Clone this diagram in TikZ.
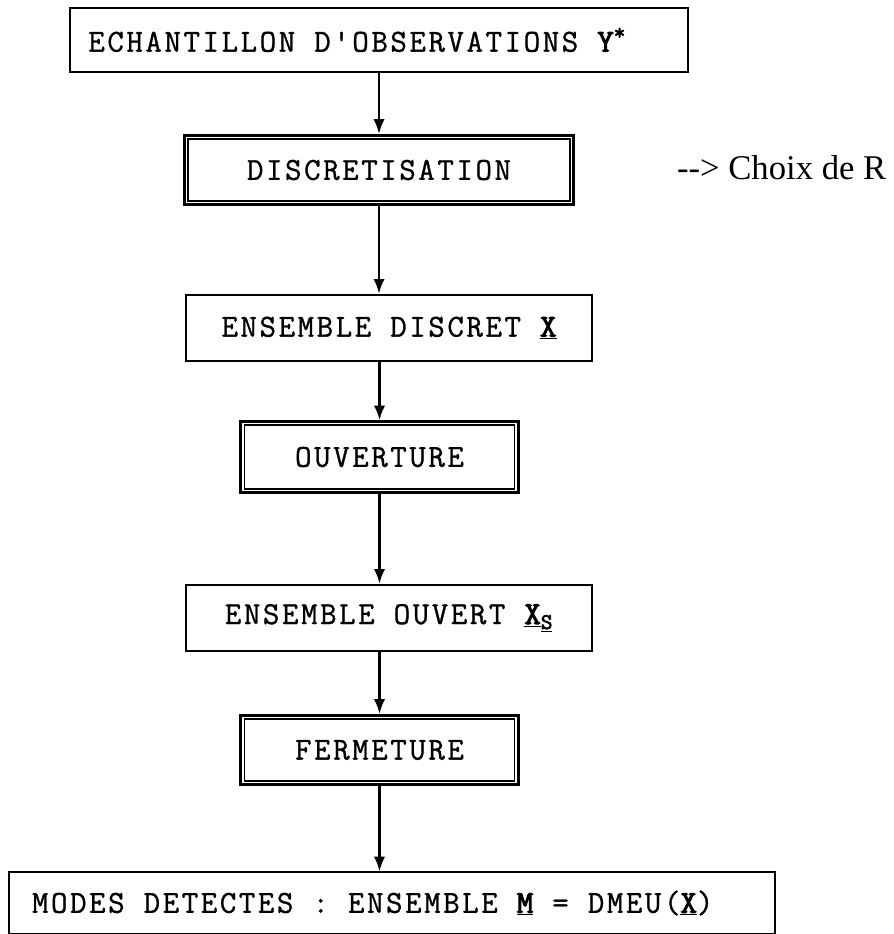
\documentclass[tikz,border=0pt]{standalone}
\usepackage{fontspec}
\usetikzlibrary{arrows.meta}
% typewriter lettering of the boxes, slightly emboldened
\newfontfamily\boxfont{Latin Modern Mono}[LetterSpace=8,FakeBold=1]
\newfontfamily\boxfontbf{Latin Modern Mono}[LetterSpace=8,FakeBold=3]
\newfontfamily\notefont{Liberation Serif}
\newcommand\bvar[1]{{\boxfontbf #1}}
\newcommand\ubvar[1]{\underline{\boxfontbf #1}}

\tikzset{
  stage/.style={draw, line width=1.5pt, inner sep=0pt,
    font=\boxfont\fontsize{24}{28}\selectfont},
  opbox/.style={stage, line width=2.2pt},
  inner frame/.style={line width=1.1pt},
  flush/.style={text width=#1, align=flush left},
  flow/.style={line width=1.7pt, -{Latex[length=11pt,width=8.5pt]}},
}

\begin{document}
\begin{tikzpicture}[x=0.75pt,y=-0.75pt]
  \useasboundingbox (0,0) rectangle (893,934);

  \node[stage, flush=436pt, minimum width=464pt, minimum height=48pt] (obs) at (379,40)
    {ECHANTILLON D'OBSERVATIONS \bvar{Y}\textsuperscript{\bvar{*}}};

  \node[opbox, minimum width=292pt, minimum height=52pt] (disc) at (379,170)
    {DISCRETISATION};
  \draw[inner frame] ([shift={(5,5)}]disc.north west) rectangle ([shift={(-5,-5)}]disc.south east);

  \node[anchor=east, font=\notefont\fontsize{26}{30}\selectfont] (choix) at (891,168)
    {-{}-> Choix de R};

  \node[stage, minimum width=304pt, minimum height=50pt] (ensd) at (389,328)
    {ENSEMBLE DISCRET \ubvar{X}};

  \node[opbox, minimum width=208pt, minimum height=53pt] (ouv) at (379.5,457)
    {OUVERTURE};
  \draw[inner frame] ([shift={(5,5)}]ouv.north west) rectangle ([shift={(-5,-5)}]ouv.south east);

  \node[stage, minimum width=304pt, minimum height=50pt] (enso) at (389,618)
    {ENSEMBLE OUVERT \ubvar{X}\textsubscript{\ubvar{S}}};

  \node[opbox, minimum width=208pt, minimum height=52pt] (ferm) at (379.5,750)
    {FERMETURE};
  \draw[inner frame] ([shift={(5,5)}]ferm.north west) rectangle ([shift={(-5,-5)}]ferm.south east);

  \node[stage, flush=540pt, minimum width=574pt, minimum height=46pt] (modes) at (392,903)
    {MODES DETECTES : ENSEMBLE \ubvar{M} = DMEU(\ubvar{X})};

  \draw[flow] (obs.south -| disc.north)  -- (disc.north);
  \draw[flow] (disc.south) -- (disc.south |- ensd.north);
  \draw[flow] (ouv.north |- ensd.south) -- (ouv.north);
  \draw[flow] (ouv.south)  -- (ouv.south  |- enso.north);
  \draw[flow] (ferm.north |- enso.south) -- (ferm.north);
  \draw[flow] (ferm.south) -- (ferm.south |- modes.north);
\end{tikzpicture}
\end{document}
